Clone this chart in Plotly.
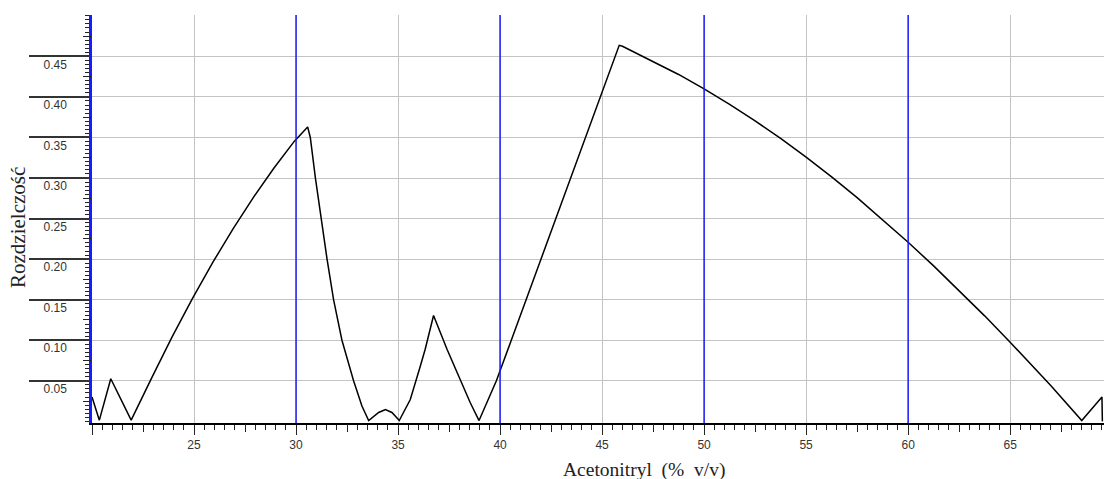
import plotly.graph_objects as go

# ---- data ----
acn = [20.0, 20.36, 20.92, 21.92, 22.92, 23.92, 24.92, 25.92, 26.92, 27.92, 28.92, 29.92,
       30.57, 30.70, 30.95, 31.22, 31.52, 31.84, 32.25, 32.82, 33.23, 33.56, 34.05, 34.38,
       34.70, 35.06, 35.60, 36.09, 36.33, 36.74, 37.40, 37.97, 38.54, 38.97, 39.82, 40.55,
       41.28, 42.01, 42.74, 43.47, 44.20, 44.93, 45.66, 45.84, 46.00, 46.67, 47.50, 48.75,
       50.0, 51.25, 52.5, 53.75, 55.0, 56.25, 57.5, 58.75, 60.0, 61.25, 62.5, 63.75, 65.0,
       66.0, 67.0, 68.51, 69.50, 69.52]
resolution = [0.030, 0.0015, 0.0525, 0.0015, 0.0533, 0.1038, 0.1513, 0.1960, 0.2377, 0.2765,
              0.3124, 0.3455, 0.363, 0.35, 0.30, 0.25, 0.20, 0.15, 0.10, 0.05, 0.019, 0.001,
              0.011, 0.0147, 0.011, 0.001, 0.027, 0.068, 0.089, 0.1305, 0.089, 0.056, 0.023,
              0.001, 0.05, 0.10, 0.15, 0.20, 0.25, 0.30, 0.35, 0.40, 0.45, 0.4636, 0.4625,
              0.4542, 0.4442, 0.4277, 0.410, 0.3909, 0.3705, 0.3488, 0.3258, 0.3014, 0.2758,
              0.2489, 0.2208, 0.1917, 0.1613, 0.1301, 0.0976, 0.0711, 0.044, 0.001, 0.030, 0.0]

x_major = [20, 25, 30, 35, 40, 45, 50, 55, 60, 65]
x_labels = ["", "25", "30", "35", "40", "45", "50", "55", "60", "65"]
x_medium = [22.5, 27.5, 32.5, 37.5, 42.5, 47.5, 52.5, 57.5, 62.5, 67.5]
y_major = [0.05, 0.10, 0.15, 0.20, 0.25, 0.30, 0.35, 0.40, 0.45]
y_labels = ["0.05", "0.10", "0.15", "0.20", "0.25", "0.30", "0.35", "0.40", "0.45"]
y_medium = [0.025, 0.075, 0.125, 0.175, 0.225, 0.275, 0.325, 0.375, 0.425, 0.475]
blue_lines = [30, 40, 50, 60]

x_title = "Acetonitryl\u00a0\u00a0(%\u00a0\u00a0v/v)"
y_title = "Rozdzielczość"

X_RANGE = [20, 69.6]
Y_RANGE = [-0.002, 0.501]

fig = go.Figure()
fig.add_trace(go.Scatter(x=acn, y=resolution, mode="lines",
                         line=dict(color="black", width=1.5), showlegend=False,
                         hoverinfo="skip"))
# empty trace to activate overlay axes
fig.add_trace(go.Scatter(x=[], y=[], xaxis="x2", yaxis="y2", showlegend=False))

for xv in blue_lines:
    fig.add_shape(type="line", x0=xv, x1=xv, xref="x", y0=0, y1=1, yref="paper",
                  line=dict(color="#1a1aff", width=1.5), layer="above")

tick_font = dict(family="Liberation Sans, Arial, sans-serif", size=12, color="#333")
serif = "Liberation Serif, Times New Roman, serif"

fig.update_layout(
    width=1105, height=479,
    margin=dict(l=92, r=1, t=15, b=56),
    paper_bgcolor="white", plot_bgcolor="white",
    xaxis=dict(range=X_RANGE, tickmode="array", tickvals=x_major, ticktext=x_labels,
               ticks="outside", ticklen=10, tickwidth=1.3, tickcolor="#222",
               showgrid=True, gridcolor="#c4c4c4", gridwidth=1.2,
               showline=True, linecolor="black", linewidth=1.6,
               zeroline=False, tickfont=tick_font,
               minor=dict(ticks="outside", ticklen=5, tickwidth=1.2, tickcolor="#222",
                          dtick=0.5, tick0=0, showgrid=False)),
    xaxis2=dict(range=X_RANGE, overlaying="x", anchor="y", side="bottom",
                tickmode="array", tickvals=x_medium, ticks="outside", ticklen=8,
                tickwidth=1.3, tickcolor="#222", showticklabels=False,
                showgrid=False, showline=False, zeroline=False),
    yaxis=dict(range=Y_RANGE, tickmode="array", tickvals=y_major, ticktext=y_labels,
               ticks="outside", ticklen=60, tickwidth=1.6, tickcolor="#333",
               ticklabelstandoff=-40, ticklabelshift=8,
               showgrid=True, gridcolor="#c4c4c4", gridwidth=1.2,
               showline=True, linecolor="#1a1aff", linewidth=2.5,
               zeroline=False, tickfont=tick_font,
               minor=dict(ticks="outside", ticklen=4, tickwidth=1.2, tickcolor="#222",
                          dtick=0.005, tick0=0, showgrid=False)),
    yaxis2=dict(range=Y_RANGE, overlaying="y", anchor="x", side="left",
                tickmode="array", tickvals=y_medium, ticks="outside", ticklen=8,
                tickwidth=1.3, tickcolor="#222", showticklabels=False,
                showgrid=False, showline=False, zeroline=False),
    annotations=[
        dict(text=x_title, xref="paper", yref="paper", x=0.545, y=0, yshift=-47,
             xanchor="center", yanchor="middle", showarrow=False,
             font=dict(family=serif, size=19.5, color="#222")),
        dict(text=y_title, xref="paper", yref="paper", x=0, xshift=-74, y=0.5, yshift=-9,
             xanchor="center", yanchor="middle", textangle=-90, showarrow=False,
             font=dict(family=serif, size=21, color="#222")),
    ],
)

fig.write_html("out.html", config={"displayModeBar": False},
               post_script="document.body.style.margin='0';document.body.style.overflow='hidden';")
